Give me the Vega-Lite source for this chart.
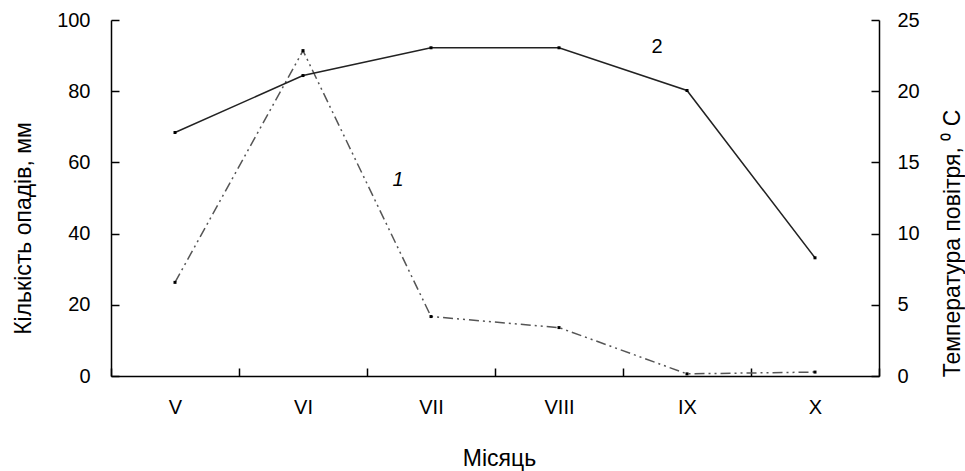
{
  "$schema": "https://vega.github.io/schema/vega-lite/v6.json",
  "width": 768,
  "height": 356,
  "autosize": {"type": "none"},
  "padding": {"left": 111, "top": 20, "right": 86, "bottom": 95},
  "background": "white",
  "config": {
    "view": {"stroke": null},
    "font": "Liberation Sans",
    "axis": {
      "domainColor": "black",
      "domainWidth": 1.5,
      "tickColor": "black",
      "tickWidth": 1.5,
      "tickSize": -8,
      "labelFont": "Liberation Sans",
      "labelFontSize": 20,
      "labelColor": "black",
      "titleFont": "Liberation Sans",
      "titleFontSize": 23,
      "titleFontWeight": "normal",
      "titleColor": "black",
      "grid": false
    }
  },
  "datasets": {
    "main": [
      {"month": "V", "precip": 26.3, "temp": 17.1},
      {"month": "VI", "precip": 91.4, "temp": 21.1},
      {"month": "VII", "precip": 16.7, "temp": 23.05},
      {"month": "VIII", "precip": 13.6, "temp": 23.05},
      {"month": "IX", "precip": 0.6, "temp": 20.05},
      {"month": "X", "precip": 1.1, "temp": 8.3}
    ],
    "lab1": [{"month": "VII", "precip": 55, "label": "1"}],
    "lab2": [{"month": "IX", "temp": 23.1, "label": "2"}]
  },
  "encoding": {
    "x": {
      "field": "month",
      "type": "ordinal",
      "scale": {"domain": ["V", "VI", "VII", "VIII", "IX", "X"], "paddingInner": 0, "paddingOuter": 0},
      "axis": {
        "title": "Місяць",
        "labelAngle": 0,
        "tickBand": "extent",
        "labelPadding": 29,
        "titleX": 388,
        "titleY": 89,
        "titleBaseline": "alphabetic"
      }
    }
  },
  "layer": [
    {
      "data": {"name": "main"},
      "encoding": {
        "y": {
          "field": "precip",
          "type": "quantitative",
          "scale": {"domain": [0, 100], "nice": false},
          "axis": {
            "orient": "left",
            "title": "Кількість опадів, мм",
            "values": [0, 20, 40, 60, 80, 100],
            "labelPadding": 29,
            "titleAngle": -90,
            "titleX": -88,
            "titleY": 208,
            "titleAlign": "center",
            "titleBaseline": "middle"
          }
        }
      },
      "layer": [
        {
          "mark": {"type": "line", "color": "#555555", "strokeWidth": 1.5, "strokeDash": [10, 4, 2, 4, 2, 4]}
        },
        {
          "mark": {"type": "point", "shape": "square", "filled": true, "color": "black", "size": 9, "opacity": 1}
        },
        {
          "data": {"name": "lab1"},
          "mark": {"type": "text", "font": "Liberation Sans", "fontSize": 20, "fontStyle": "italic", "color": "black", "dx": -33},
          "encoding": {"text": {"field": "label"}}
        }
      ]
    },
    {
      "data": {"name": "main"},
      "encoding": {
        "y": {
          "field": "temp",
          "type": "quantitative",
          "scale": {"domain": [0, 25], "nice": false},
          "axis": {
            "orient": "right",
            "title": "Температура повітря, ⁰ C",
            "values": [0, 5, 10, 15, 20, 25],
            "labelPadding": 26,
            "titleAngle": -90,
            "titleX": 73,
            "titleY": 223,
            "titleAlign": "center",
            "titleBaseline": "middle"
          }
        }
      },
      "layer": [
        {
          "mark": {"type": "line", "color": "#222222", "strokeWidth": 1.5}
        },
        {
          "mark": {"type": "point", "shape": "square", "filled": true, "color": "black", "size": 9, "opacity": 1}
        },
        {
          "data": {"name": "lab2"},
          "mark": {"type": "text", "font": "Liberation Sans", "fontSize": 20, "color": "black", "dx": -30},
          "encoding": {"text": {"field": "label"}}
        }
      ]
    }
  ],
  "resolve": {"scale": {"y": "independent"}, "axis": {"y": "independent"}}
}
